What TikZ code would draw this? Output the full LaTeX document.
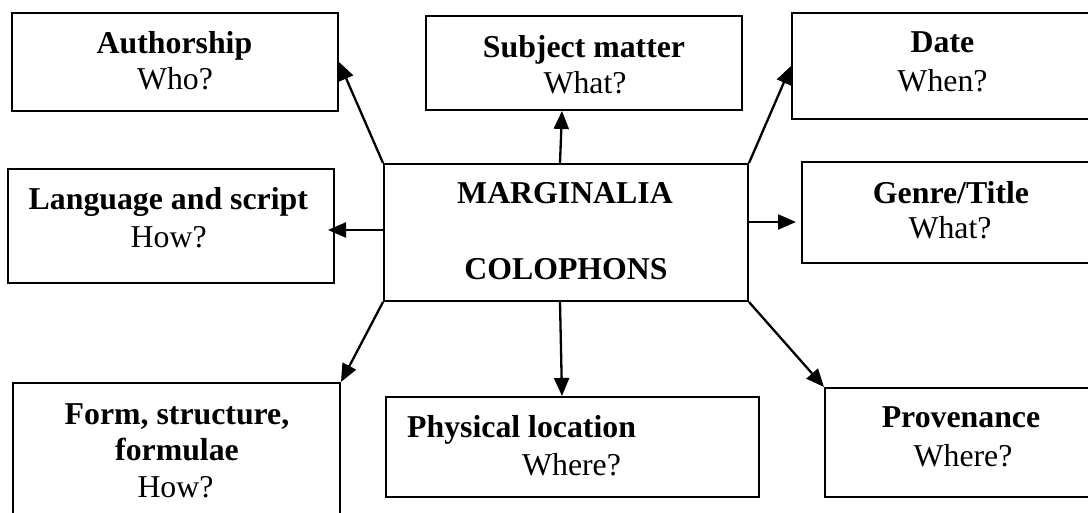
\documentclass[tikz,border=0pt]{standalone}
\usepackage{fontspec}
\setmainfont{Liberation Serif}
\usetikzlibrary{arrows.meta}
\begin{document}
\begin{tikzpicture}[x=1pt,y=-1pt,
  box/.style={draw=black, line width=2pt, inner sep=0pt},
  ln/.style={anchor=base, inner sep=0pt, font=\fontsize{31.8}{37}\selectfont},
  bl/.style={ln, font=\fontsize{31.8}{37}\selectfont\bfseries},
  arr/.style={line width=2.3pt, -{Triangle[length=18pt,width=15pt]}}]
\useasboundingbox (0,0) rectangle (1088,513);
% boxes
\node[box, minimum width=326pt, minimum height=98pt]  (auth)   at (175,62) {};
\node[box, minimum width=316pt, minimum height=94pt]  (subj)   at (584,63) {};
\node[box, minimum width=305pt, minimum height=106pt] (date)   at (944.5,66) {};
\node[box, minimum width=326pt, minimum height=114pt] (lang)   at (171,226) {};
\node[box, minimum width=364pt, minimum height=137pt] (centre) at (566,232.5) {};
\node[box, minimum width=296pt, minimum height=101pt] (genre)  at (950,212.5) {};
\node[box, minimum width=327pt, minimum height=147pt] (form)   at (176.5,456.5) {};
\node[box, minimum width=373pt, minimum height=100pt] (phys)   at (572.5,447) {};
\node[box, minimum width=272pt, minimum height=109pt] (prov)   at (961,442.5) {};
% texts
\node[bl] (authA) at (174.5,53.3) {Authorship};
\node[ln] (authB) at (175,90) {Who?};
\node[bl] (subjA) at (584,57.3) {Subject matter};
\node[ln] (subjB) at (585,94) {What?};
\node[bl] (dateA) at (942.5,52.7) {Date};
\node[ln] (dateB) at (942.5,91.7) {When?};
\node[bl] (langA) at (168.3,209.3) {Language and script};
\node[ln] (langB) at (168.7,247.5) {How?};
\node[bl] (centA) at (565,204) {MARGINALIA};
\node[bl] (centB) at (566,279.3) {COLOPHONS};
\node[bl] (genreA) at (951,203.3) {Genre/Title};
\node[ln] (genreB) at (950,238.3) {What?};
\node[bl] (formA) at (177,424) {Form, structure,};
\node[bl] (formB) at (177,460) {formulae};
\node[ln] (formC) at (175.5,497) {How?};
\node[bl, anchor=base west] (physA) at (407,437) {Physical location};
\node[ln] (physB) at (571.5,475) {Where?};
\node[bl] (provA) at (961,427) {Provenance};
\node[ln] (provB) at (963,466) {Where?};
% connectors
\draw[arr] (centre.north west) -- (auth.east);
\draw[arr] ([xshift=-6pt]centre.north) -- ([xshift=-22pt]subj.south);
\draw[arr] (centre.north east) -- (date.west);
\draw[arr] ([yshift=2.5pt]centre.west) -- ([xshift=-7pt,yshift=-4pt]lang.east);
\draw[arr] ([yshift=10.5pt]centre.east) -- ([xshift=-5pt,yshift=-9.5pt]genre.west);
\draw[arr] (centre.south west) -- (form.north east);
\draw[arr] ([xshift=-6pt]centre.south) -- ([xshift=-10.5pt]phys.north);
\draw[arr] (centre.south east) -- (prov.north west);
\end{tikzpicture}
\end{document}
